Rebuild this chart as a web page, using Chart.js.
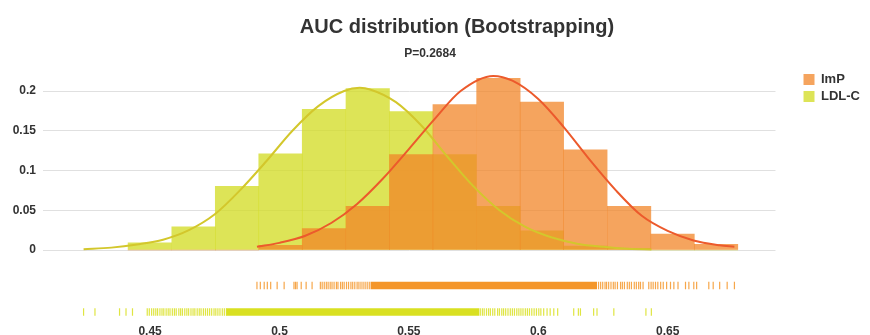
<!DOCTYPE html>
<html>
<head>
<meta charset="utf-8">
<script src="https://cdn.jsdelivr.net/npm/chart.js@4.4.1/dist/chart.umd.min.js"></script>
<style>
  html, body { margin: 0; padding: 0; background: #fff; }
  #contenedor { width: 870px; height: 335px; }
</style>
</head>
<body>
<div id="contenedor"><canvas id="graficoAUC"></canvas></div>
<script>
// textos
var titulo = "AUC distribution (Bootstrapping)";
var subtitulo = "P=0.2684";
var series = ["ImP", "LDL-C"];

// histograma: centros de clase y proporciones
var binCenters = [0.4499, 0.4668, 0.4836, 0.5004, 0.5172, 0.5341, 0.5509,
                  0.5677, 0.5846, 0.6014, 0.6182, 0.6351, 0.6519, 0.6687];
var impHist = [0, 0, 0, 0.006, 0.027, 0.055, 0.120, 0.183, 0.216, 0.186, 0.126, 0.055, 0.020, 0.007];
var ldlHist = [0.009, 0.029, 0.080, 0.121, 0.177, 0.203, 0.174, 0.120, 0.055, 0.024, 0.005, 0.002, 0, 0];

// curvas de densidad
var impCurveX = [0.4913, 0.50, 0.51, 0.52, 0.53, 0.54, 0.55, 0.56, 0.57, 0.5826,
                 0.59, 0.60, 0.61, 0.62, 0.63, 0.64, 0.65, 0.66, 0.67, 0.6758];
var impCurveY = [0.004, 0.009, 0.018, 0.034, 0.058, 0.090, 0.127, 0.165, 0.200, 0.219,
                 0.213, 0.190, 0.154, 0.113, 0.075, 0.043, 0.024, 0.012, 0.006, 0.004];
var ldlCurveX = [0.4243, 0.435, 0.445, 0.455, 0.465, 0.475, 0.485, 0.495, 0.505, 0.515,
                 0.525, 0.531, 0.535, 0.545, 0.555, 0.565, 0.575, 0.585, 0.595, 0.605,
                 0.615, 0.625, 0.635, 0.6437];
var ldlCurveY = [0.001, 0.003, 0.007, 0.013, 0.025, 0.045, 0.076, 0.112, 0.150, 0.181,
                 0.200, 0.204, 0.202, 0.186, 0.156, 0.117, 0.080, 0.050, 0.029, 0.016,
                 0.008, 0.004, 0.0015, 0.0007];

// rug: valores individuales y tramo continuo
var impRug = [0.4913, 0.4926, 0.4941, 0.4953, 0.4966, 0.4991, 0.5018, 0.5056, 0.5062, 0.5068,
              0.5084, 0.5103, 0.5126, 0.5158, 0.5165, 0.5173, 0.5181, 0.5188, 0.5196, 0.5203,
              0.5211, 0.5220, 0.5226, 0.5236, 0.5243, 0.5250, 0.5259, 0.5267, 0.5276, 0.5283,
              0.5291, 0.5300, 0.5307, 0.5315, 0.5323, 0.5331, 0.5339, 0.5347,
              0.6233, 0.6241, 0.6249, 0.6258, 0.6264, 0.6272, 0.6281, 0.6290, 0.6297, 0.6306,
              0.6318, 0.6325, 0.6333, 0.6344, 0.6352, 0.6360, 0.6371, 0.6379, 0.6388,
              0.6395, 0.6405, 0.6427, 0.6436, 0.6444, 0.6453, 0.6462, 0.6473, 0.6483, 0.6496,
              0.6511, 0.6524, 0.6540, 0.6569, 0.6582, 0.6601, 0.6612,
              0.6659, 0.6676, 0.6701, 0.6730, 0.6758];
var impRugSolid = [0.5352, 0.6227];
var ldlRug = [0.4243, 0.4287, 0.4382, 0.4407, 0.4432,
              0.4489, 0.4497, 0.4506, 0.4514, 0.4522, 0.4529, 0.4538, 0.4546, 0.4553, 0.4562,
              0.4570, 0.4577, 0.4586, 0.4594, 0.4601, 0.4611, 0.4618, 0.4625, 0.4634, 0.4642,
              0.4649, 0.4658, 0.4666, 0.4673, 0.4682, 0.4690, 0.4697, 0.4706, 0.4714, 0.4722,
              0.4730, 0.4738, 0.4747, 0.4754, 0.4762, 0.4770, 0.4779, 0.4787, 0.4795,
              0.5776, 0.5784, 0.5791, 0.5800, 0.5808, 0.5815, 0.5824, 0.5832, 0.5843, 0.5850,
              0.5859, 0.5866, 0.5874, 0.5883, 0.5892, 0.5900, 0.5908, 0.5917, 0.5925, 0.5933,
              0.5941, 0.5950, 0.5958, 0.5966, 0.5975, 0.5984, 0.5993, 0.6002, 0.6010, 0.6021,
              0.6034, 0.6046, 0.6060, 0.6075,
              0.6137, 0.6155, 0.6163, 0.6214, 0.6227, 0.6292, 0.6416, 0.6437];
var ldlRugSolid = [0.4795, 0.5772];

var xTicks = [0.45, 0.5, 0.55, 0.6, 0.65];
var yTicks = [0, 0.05, 0.1, 0.15, 0.2];

var fuente = "'Liberation Sans', Arial, Helvetica, sans-serif";
Chart.defaults.font.family = fuente;
Chart.defaults.color = '#333';

function puntos(xs, ys) {
    return xs.map(function (x, i) { return { x: x, y: ys[i] }; });
}
function linea(xs, y) {
    return xs.map(function (x) { return { x: x, y: y }; });
}

// titulo y subtitulo (posiciones propias del original)
var titulosPlugin = {
    id: 'titulos',
    afterDraw: function (chart) {
        var ctx = chart.ctx;
        ctx.save();
        ctx.fillStyle = '#333';
        ctx.textAlign = 'center';
        ctx.textBaseline = 'alphabetic';
        ctx.font = "bold 20px " + fuente;
        ctx.fillText(titulo, 457, 33);
        ctx.font = "bold 12px " + fuente;
        ctx.fillText(subtitulo, 430, 57);
        ctx.restore();
    }
};

function crearGrafico() {
    var rugImpY = -0.0447;
    var rugLdlY = -0.078;
    var ctx = document.getElementById("graficoAUC");
    new Chart(ctx, {
        type: 'bar',
        data: {
            datasets: [{
                type: 'bar',
                label: series[0],
                data: puntos(binCenters, impHist),
                backgroundColor: 'rgba(242, 133, 40, 0.75)',
                borderWidth: 0,
                barPercentage: 1,
                categoryPercentage: 1,
                grouped: false,
                order: 1
            }, {
                type: 'bar',
                label: series[1],
                data: puntos(binCenters, ldlHist),
                backgroundColor: 'rgba(212, 220, 40, 0.78)',
                borderWidth: 0,
                barPercentage: 1,
                categoryPercentage: 1,
                grouped: false,
                order: 2
            }, {
                type: 'line',
                label: 'ImP curve',
                data: puntos(impCurveX, impCurveY),
                borderColor: '#ec5a2c',
                borderWidth: 2,
                pointRadius: 0,
                cubicInterpolationMode: 'monotone',
                fill: false,
                order: 0
            }, {
                type: 'line',
                label: 'LDL-C curve',
                data: puntos(ldlCurveX, ldlCurveY),
                borderColor: '#d3c72c',
                borderWidth: 2,
                pointRadius: 0,
                cubicInterpolationMode: 'monotone',
                fill: false,
                order: 0
            }, {
                type: 'line',
                label: 'ImP rug band',
                data: linea(impRugSolid, rugImpY),
                borderColor: '#f4962a',
                borderWidth: 7.5,
                borderCapStyle: 'butt',
                pointRadius: 0,
                order: 3
            }, {
                type: 'line',
                label: 'ImP rug',
                data: linea(impRug, rugImpY),
                showLine: false,
                pointStyle: 'line',
                pointRotation: 90,
                pointRadius: 3.75,
                pointBorderWidth: 1.2,
                pointBorderColor: 'rgba(244, 150, 42, 0.85)',
                order: 3
            }, {
                type: 'line',
                label: 'LDL-C rug band',
                data: linea(ldlRugSolid, rugLdlY),
                borderColor: '#d9e021',
                borderWidth: 7.5,
                borderCapStyle: 'butt',
                pointRadius: 0,
                order: 3
            }, {
                type: 'line',
                label: 'LDL-C rug',
                data: linea(ldlRug, rugLdlY),
                showLine: false,
                pointStyle: 'line',
                pointRotation: 90,
                pointRadius: 3.75,
                pointBorderWidth: 1.2,
                pointBorderColor: 'rgba(217, 224, 33, 0.85)',
                order: 3
            }]
        },
        options: {
            responsive: true,
            maintainAspectRatio: false,
            animation: false,
            layout: { padding: { top: 69, right: 0, bottom: 0, left: 0 } },
            scales: {
                x: {
                    type: 'linear',
                    min: 0.40862,
                    max: 0.69168,
                    offset: false,
                    grid: { display: false, drawTicks: false },
                    border: { display: false },
                    afterBuildTicks: function (s) {
                        s.ticks = xTicks.map(function (v) { return { value: v }; });
                    },
                    ticks: {
                        font: { size: 12, weight: 'bold' },
                        color: '#333',
                        padding: 4,
                        maxRotation: 0,
                        autoSkip: false,
                        callback: function (v) { return String(+(+v).toFixed(2)); }
                    },
                    afterFit: function (s) { s.height = 15; }
                },
                y: {
                    type: 'linear',
                    min: -0.08805,
                    max: 0.2277,
                    grid: { color: '#e0e0e0', drawTicks: false },
                    border: { display: false },
                    afterBuildTicks: function (s) {
                        s.ticks = yTicks.map(function (v) { return { value: v }; });
                    },
                    ticks: {
                        font: { size: 12, weight: 'bold' },
                        color: '#333',
                        padding: 7,
                        callback: function (v) { return String(+(+v).toFixed(2)); }
                    },
                    afterFit: function (s) { s.width = 43; }
                },
                yHueco: {
                    type: 'linear',
                    position: 'right',
                    grid: { display: false },
                    border: { display: false },
                    ticks: { display: false },
                    afterFit: function (s) { s.width = 24; }
                }
            },
            plugins: {
                title: { display: false },
                tooltip: { enabled: false },
                legend: {
                    position: 'right',
                    align: 'start',
                    labels: {
                        boxWidth: 11,
                        boxHeight: 11,
                        padding: 4,
                        color: '#333',
                        font: { size: 13, weight: 'bold' },
                        filter: function (item) { return series.indexOf(item.text) >= 0; }
                    }
                }
            }
        },
        plugins: [titulosPlugin]
    });
}

crearGrafico();
</script>
</body>
</html>
